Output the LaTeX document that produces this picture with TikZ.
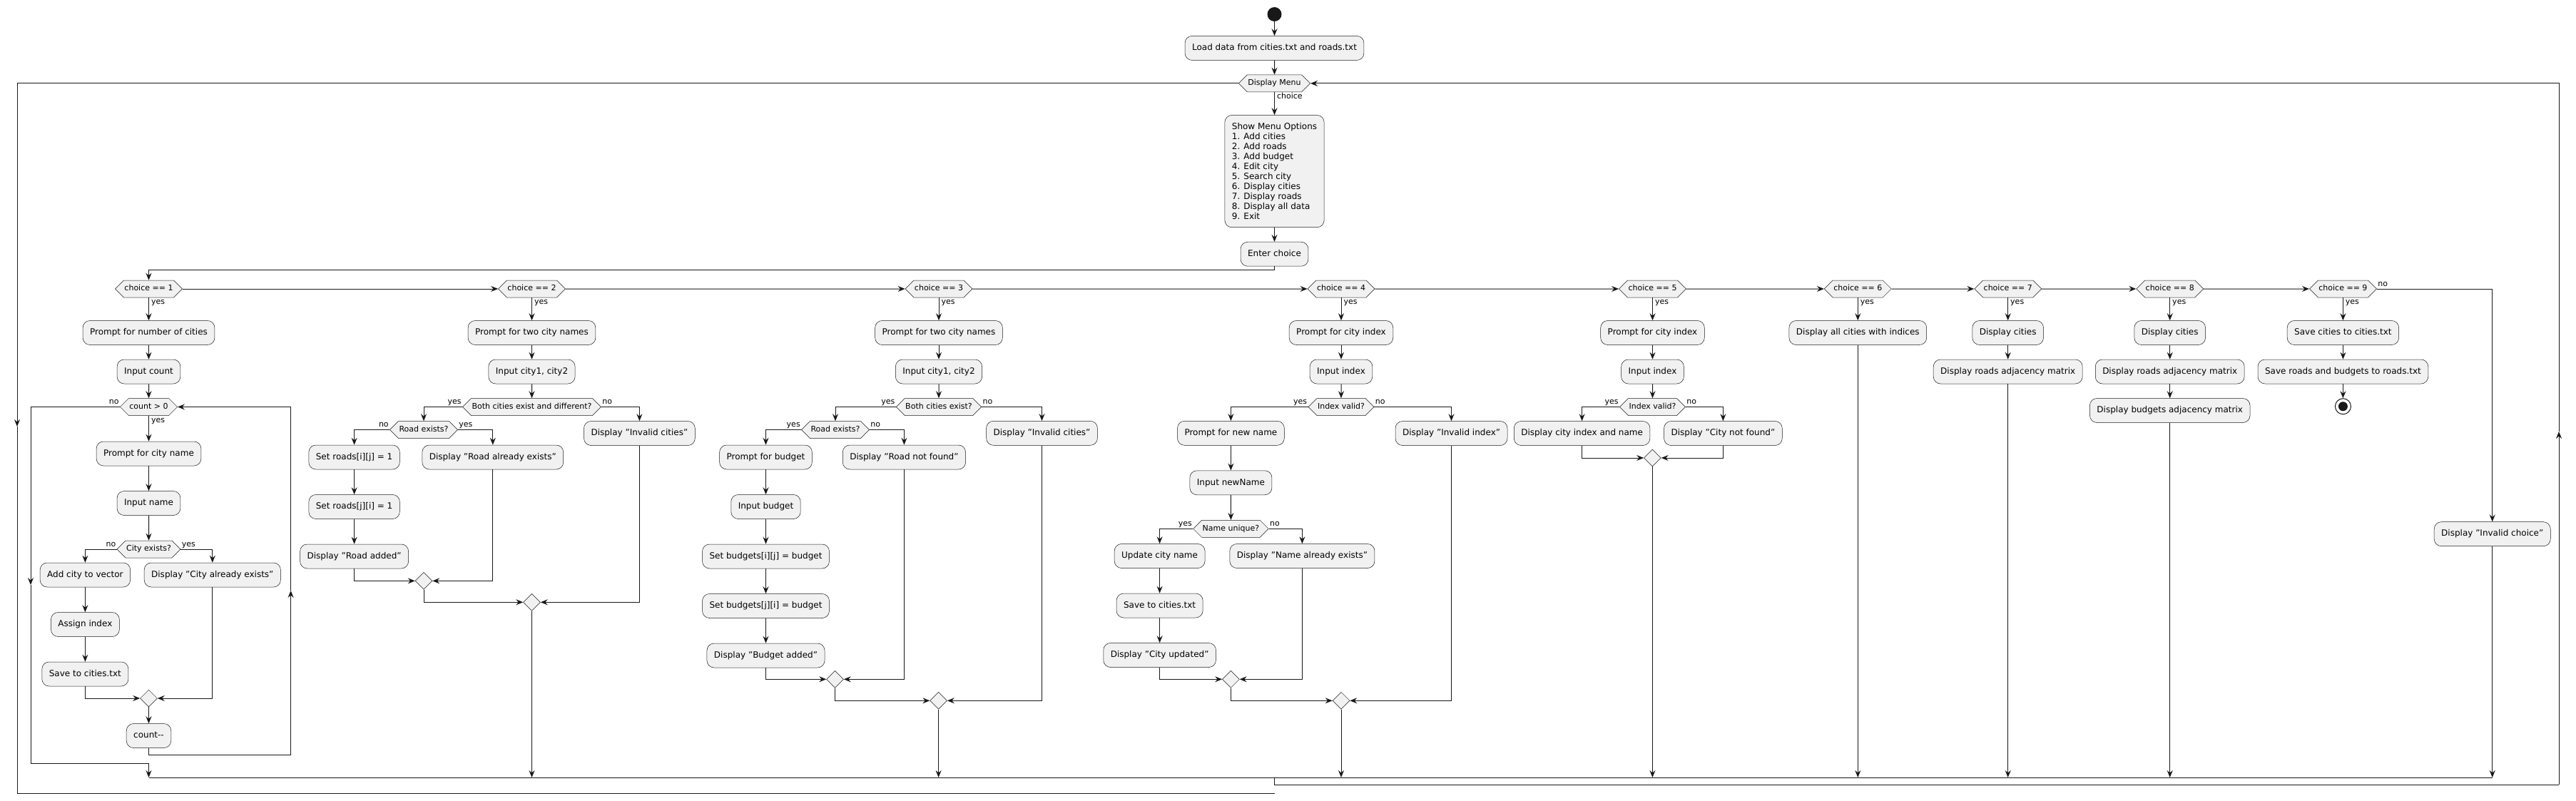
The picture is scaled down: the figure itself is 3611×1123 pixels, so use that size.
\documentclass[tikz,border=0pt]{standalone}
\usepackage{fontspec}
\setmainfont{DejaVu Sans}
\usetikzlibrary{arrows.meta,positioning,shapes.geometric,shapes.symbols}
\definecolor{actfill}{HTML}{F1F1F1}
\definecolor{ink}{HTML}{181818}
\tikzset{
  act/.style={rectangle, rounded corners=10pt, draw=ink, line width=0.5pt, fill=actfill,
    font=\fontsize{12pt}{14pt}\selectfont, inner xsep=10pt, minimum height=34pt,
    text height=9pt, text depth=2.6pt},
  menubox/.style={text height=, text depth=, align=left, inner ysep=11pt},
  cond/.style={signal, signal to=west and east, signal pointer angle=90, draw=ink,
    line width=0.5pt, fill=actfill, font=\fontsize{11pt}{13pt}\selectfont,
    inner xsep=1pt, inner ysep=0pt, minimum height=24pt, text height=8pt, text depth=2.4pt},
  mrg/.style={diamond, draw=ink, line width=0.5pt, fill=actfill, minimum width=24pt,
    minimum height=24pt, inner sep=0pt},
  init/.style={circle, fill=ink, minimum size=20pt, inner sep=0pt},
  fin/.style={circle, draw=ink, line width=1pt, fill=white, minimum size=22pt, inner sep=0pt,
    path picture={\fill[ink] (path picture bounding box.center) circle (6.5pt);}},
  flow/.style={draw=ink, line width=1pt, ->},
  wire/.style={draw=ink, line width=1pt},
  lbl/.style={font=\fontsize{11pt}{13pt}\selectfont, inner sep=1pt, text height=8pt, text depth=2.4pt},
  lbly/.style={lbl, anchor=north west, pos=0, xshift=2pt},
  lbll/.style={lbl, anchor=south east, pos=0},
  lblr/.style={lbl, anchor=south west, pos=0}
}
\begin{document}
\begin{tikzpicture}[x=1pt,y=-1pt,>={Stealth[length=10pt,width=8pt,inset=3.5pt]},node distance=20pt]
\useasboundingbox (0,0) rectangle (3611,1123);

\node[init] (start) at (1786.5,20) {};
\node[act] (load) [below=of start] {Load data from cities.txt and roads.txt};
\node[cond] (menu) [below=of load] {Display Menu};
\node[act,menubox] (opts) [below=32pt of menu] {Show Menu Options\\1. Add cities\\2. Add roads\\3. Add budget\\4. Edit city\\5. Search city\\6. Display cities\\7. Display roads\\8. Display all data\\9. Exit};
\node[act] (enter) [below=of opts] {Enter choice};

\foreach \k/\x in {1/208.5,2/745.5,3/1316,4/1880,5/2316.5,6/2604.3,7/2814.7,8/3041.7,9/3284.4}
  \node[cond] (c\k) at (\x,405) {choice == \k};

\node[act] (b1p) [below=32pt of c1] {Prompt for number of cities};
\node[act] (b1i) [below=of b1p] {Input count};
\node[cond] (cnt) [below=of b1i] {count > 0};
\node[act] (b1n) [below=36pt of cnt] {Prompt for city name};
\node[act] (b1in) [below=35pt of b1n] {Input name};
\node[cond] (cex) [below=35pt of b1in] {City exists?};
\node[act] (add) at (119.4,806) {Add city to vector};
\node[act] (asg) [below=35pt of add] {Assign index};
\node[act] (sav1) [below=35pt of asg] {Save to cities.txt};
\node[act] (dup) at (297.8,806) {Display "City already exists"};
\node[mrg] (m1) at (208.5,979) {};
\node[act] (dec) [below=23pt of m1] {count-{}-};

\node[act] (b2p) [below=32pt of c2] {Prompt for two city names};
\node[act] (b2i) [below=of b2p] {Input city1, city2};
\node[cond] (bce) [below=of b2i] {Both cities exist and different?};
\node[cond] (rex2) at (594,602.5) {Road exists?};
\node[act] (sr1) at (496.6,641) {Set roads[i][j] = 1};
\node[act] (sr2) [below=35pt of sr1] {Set roads[j][i] = 1};
\node[act] (radd) [below=35pt of sr2] {Display "Road added"};
\node[act] (rdup) at (690.8,641) {Display "Road already exists"};
\node[mrg] (m2a) at (594,814.4) {};
\node[act] (inv2) at (896.4,607.5) {Display "Invalid cities"};
\node[mrg] (m2b) at (745.5,844.3) {};

\node[act] (b3p) [below=32pt of c3] {Prompt for two city names};
\node[act] (b3i) [below=of b3p] {Input city1, city2};
\node[cond] (bce3) [below=of b3i] {Both cities exist?};
\node[cond] (rex3) at (1171,602.5) {Road exists?};
\node[act] (pb) at (1073.5,641) {Prompt for budget};
\node[act] (ib) [below=35pt of pb] {Input budget};
\node[act] (sb1) [below=35pt of ib] {Set budgets[i][j] = budget};
\node[act] (sb2) [below=35pt of sb1] {Set budgets[j][i] = budget};
\node[act] (badd) [below=35pt of sb2] {Display "Budget added"};
\node[act] (rnf) at (1267.4,641) {Display "Road not found"};
\node[mrg] (m3a) at (1170.5,952.3) {};
\node[act] (inv3) at (1460.5,607.3) {Display "Invalid cities"};
\node[mrg] (m3b) at (1315.6,982.3) {};

\node[act] (b4p) [below=32pt of c4] {Prompt for city index};
\node[act] (b4i) [below=of b4p] {Input index};
\node[cond] (iv4) [below=of b4i] {Index valid?};
\node[act] (pn) at (1725.4,607.3) {Prompt for new name};
\node[act] (inn) [below=35pt of pn] {Input newName};
\node[cond] (nu) [below=35pt of inn] {Name unique?};
\node[act] (upd) at (1625.6,779.5) {Update city name};
\node[act] (sav4) [below=35pt of upd] {Save to cities.txt};
\node[act] (cupd) [below=35pt of sav4] {Display "City updated"};
\node[act] (nae) at (1825.4,779.5) {Display "Name already exists"};
\node[mrg] (m4a) at (1725.4,952.3) {};
\node[act] (inv4) at (2034.5,607.5) {Display "Invalid index"};
\node[mrg] (m4b) at (1880,982.3) {};

\node[act] (b5p) [below=32pt of c5] {Prompt for city index};
\node[act] (b5i) [below=of b5p] {Input index};
\node[cond] (iv5) [below=of b5i] {Index valid?};
\node[act] (shw) at (2217.6,607.5) {Display city index and name};
\node[act] (cnf) at (2415.4,607.5) {Display "City not found"};
\node[mrg] (m5) at (2316.4,642) {};

\node[act] (all6) [below=32pt of c6] {Display all cities with indices};
\node[act] (dc7) [below=32pt of c7] {Display cities};
\node[act] (dr7) [below=of dc7] {Display roads adjacency matrix};
\node[act] (dc8) [below=32pt of c8] {Display cities};
\node[act] (dr8) [below=of dc8] {Display roads adjacency matrix};
\node[act] (db8) [below=of dr8] {Display budgets adjacency matrix};
\node[act] (sv9a) [below=32pt of c9] {Save cities to cities.txt};
\node[act] (sv9b) [below=of sv9a] {Save roads and budgets to roads.txt};
\node[fin] (stop) [below=of sv9b] {};
\node[act] (inv9) at (3493.7,748.7) {Display "Invalid choice"};

\coordinate (jn) at (1786.5,378);
\coordinate (barL) at (208.5,1090);
\coordinate (barR) at (3493.7,1090);
\coordinate (nL) at (43,820);
\coordinate (nB) at (208.5,1070);
\coordinate (rB) at (407.6,1058);
\coordinate (rM) at (407.6,828);
\coordinate (oM) at (24,598);
\coordinate (oB) at (1786.5,1112);
\coordinate (bkS) at (1786.5,1090);
\coordinate (bkR) at (3587,1100);
\coordinate (bkM) at (3587,605);

\draw[flow] (start) -- (load);
\draw[flow] (load) -- (menu);
\draw[flow] (menu.south) -- node[lbly] (lch) {choice} (opts.north);
\draw[flow] (opts) -- (enter);
\draw[flow] (enter.south) -- (jn) -| (c1.north);

\foreach \a [count=\b from 2] in {1,...,8}
  \draw[flow] (c\a) -- (c\b);
\foreach \k/\n in {1/b1p,2/b2p,3/b3p,4/b4p,5/b5p,6/all6,7/dc7,8/dc8,9/sv9a}
  \draw[flow] (c\k.south) -- node[lbly] (yes\k) {yes} (\n.north);
\draw[flow] (cnt.south) -- node[lbly] (cnt-y) {yes} (b1n.north);

\foreach \u/\v in {b1p/b1i,b1i/cnt,b1n/b1in,b1in/cex,add/asg,asg/sav1,m1/dec,
    b2p/b2i,b2i/bce,sr1/sr2,sr2/radd,b3p/b3i,b3i/bce3,pb/ib,ib/sb1,sb1/sb2,sb2/badd,
    b4p/b4i,b4i/iv4,pn/inn,inn/nu,upd/sav4,sav4/cupd,b5p/b5i,b5i/iv5,
    dc7/dr7,dc8/dr8,dr8/db8,sv9a/sv9b,sv9b/stop}
  \draw[flow] (\u) -- (\v);

\foreach \d/\l/\r/\tl/\tr in {cex/add/dup/no/yes,bce/rex2/inv2/yes/no,rex2/sr1/rdup/no/yes,
    bce3/rex3/inv3/yes/no,rex3/pb/rnf/yes/no,iv4/pn/inv4/yes/no,nu/upd/nae/yes/no,iv5/shw/cnf/yes/no} {
  \draw[flow] (\d.west) -| node[lbll] (\d-l) {\tl} (\l.north);
  \draw[flow] (\d.east) -| node[lblr] (\d-r) {\tr} (\r.north);
}

\foreach \l/\r/\m in {sav1/dup/m1,radd/rdup/m2a,m2a/inv2/m2b,badd/rnf/m3a,m3a/inv3/m3b,
    cupd/nae/m4a,m4a/inv4/m4b,shw/cnf/m5} {
  \draw[flow] (\l.south) |- (\m.west);
  \draw[flow] (\r.south) |- (\m.east);
}

\foreach \m in {m2b,m3b,m4b,m5,all6,dr7,db8,inv9}
  \draw[flow] (\m.south) -- (\m.south |- barL);

\draw[flow] (cnt.west) -| node[lbll] (cnt-l) {no} (nL);
\draw[flow] (nL) |- (nB) -- (barL);
\draw[flow] (dec.south) |- (rB) -- (rM);
\draw[flow] (rM) |- (cnt.east);
\draw[flow] (c9.east) -| node[lblr] (c9-r) {no} (inv9.north);
\draw[wire] (barL) -- (barR);
\draw[wire] (bkS) |- (bkR);
\draw[flow] (bkR) -- (bkM);
\draw[flow] (bkM) |- (menu.east);
\draw[flow] (menu.west) -| (oM);
\draw[wire] (oM) |- (oB);
\end{tikzpicture}
\end{document}
